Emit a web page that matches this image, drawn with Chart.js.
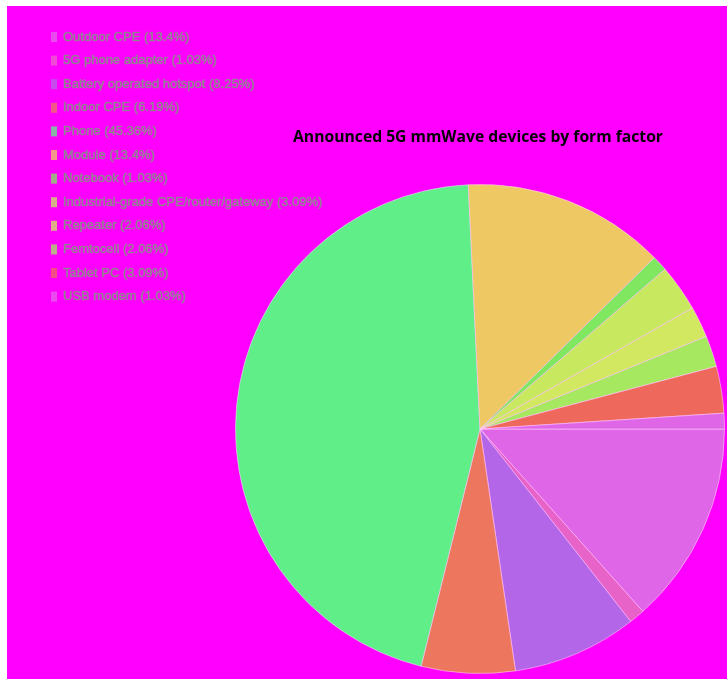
<!DOCTYPE html>
<html>
<head>
<meta charset="utf-8">
<script src="https://cdn.jsdelivr.net/npm/chart.js@4"></script>
<style>
    html, body { margin: 0; padding: 0; background: #fff; }
    #wrap { position: absolute; left: 7px; top: 6px; width: 720px; height: 673px; background: #ff00ff; }
</style>
</head>
<body>
<div id="wrap"><canvas id="deviceChart"></canvas></div>
<script>
const categories = [
    'Outdoor CPE', '5G phone adapter', 'Battery operated hotspot', 'Indoor CPE', 'Phone', 'Module',
    'Notebook', 'Industrial-grade CPE/router/gateway', 'Repeater', 'Femtocell', 'Tablet PC', 'USB modem'
];
const shares = [13.4, 1.03, 8.25, 6.19, 45.36, 13.4, 1.03, 3.09, 2.06, 2.06, 3.09, 1.03];
const sliceColors = [
    '#e066e8', '#e863c8', '#b366e8', '#ec765e', '#60ee88', '#eec862',
    '#80e860', '#c8e860', '#d2e860', '#a6e860', '#ee685c', '#e066e8'
];
const chartTitle = 'Announced 5G mmWave devices by form factor';

// Legend list in the top-left corner
const sideLegend = {
    id: 'sideLegend',
    afterDraw(chart) {
        const ctx = chart.ctx;
        ctx.save();
        ctx.font = '13px "Liberation Sans", Arial, sans-serif';
        ctx.textBaseline = 'middle';
        ctx.lineWidth = 0.6;
        categories.forEach((name, i) => {
            const y = 31 + i * 23.6;
            ctx.globalAlpha = 0.75;
            ctx.fillStyle = sliceColors[i];
            ctx.fillRect(44, y - 5, 6, 10);
            ctx.globalAlpha = 1;
            const text = name + ' (' + shares[i] + '%)';
            ctx.fillStyle = '#888';
            ctx.strokeStyle = 'rgba(150, 150, 150, 0.6)';
            ctx.strokeText(text, 56, y);
            ctx.fillText(text, 56, y);
        });
        ctx.restore();
    }
};

// Bold title above the pie
const topTitle = {
    id: 'topTitle',
    afterDraw(chart) {
        const ctx = chart.ctx;
        ctx.save();
        ctx.font = 'bold 14px "Open Sans", sans-serif';
        const w = ctx.measureText(chartTitle).width;
        const size = 14 * 370 / w;
        ctx.font = 'bold ' + size.toFixed(2) + 'px "Open Sans", sans-serif';
        ctx.fillStyle = '#000';
        ctx.textAlign = 'center';
        ctx.textBaseline = 'middle';
        ctx.fillText(chartTitle, 471, 132);
        ctx.restore();
    }
};

const ctx = document.getElementById('deviceChart').getContext('2d');
new Chart(ctx, {
    type: 'pie',
    data: {
        labels: categories,
        datasets: [{
            data: shares,
            backgroundColor: sliceColors,
            borderColor: 'rgba(255, 210, 255, 0.55)',
            borderWidth: 1
        }]
    },
    options: {
        responsive: true,
        maintainAspectRatio: false,
        animation: false,
        events: [],
        rotation: 90,
        layout: { padding: { left: 228, top: 177, right: 2, bottom: 4 } },
        plugins: {
            legend: { display: false },
            tooltip: { enabled: false }
        }
    },
    plugins: [sideLegend, topTitle]
});
</script>
</body>
</html>
